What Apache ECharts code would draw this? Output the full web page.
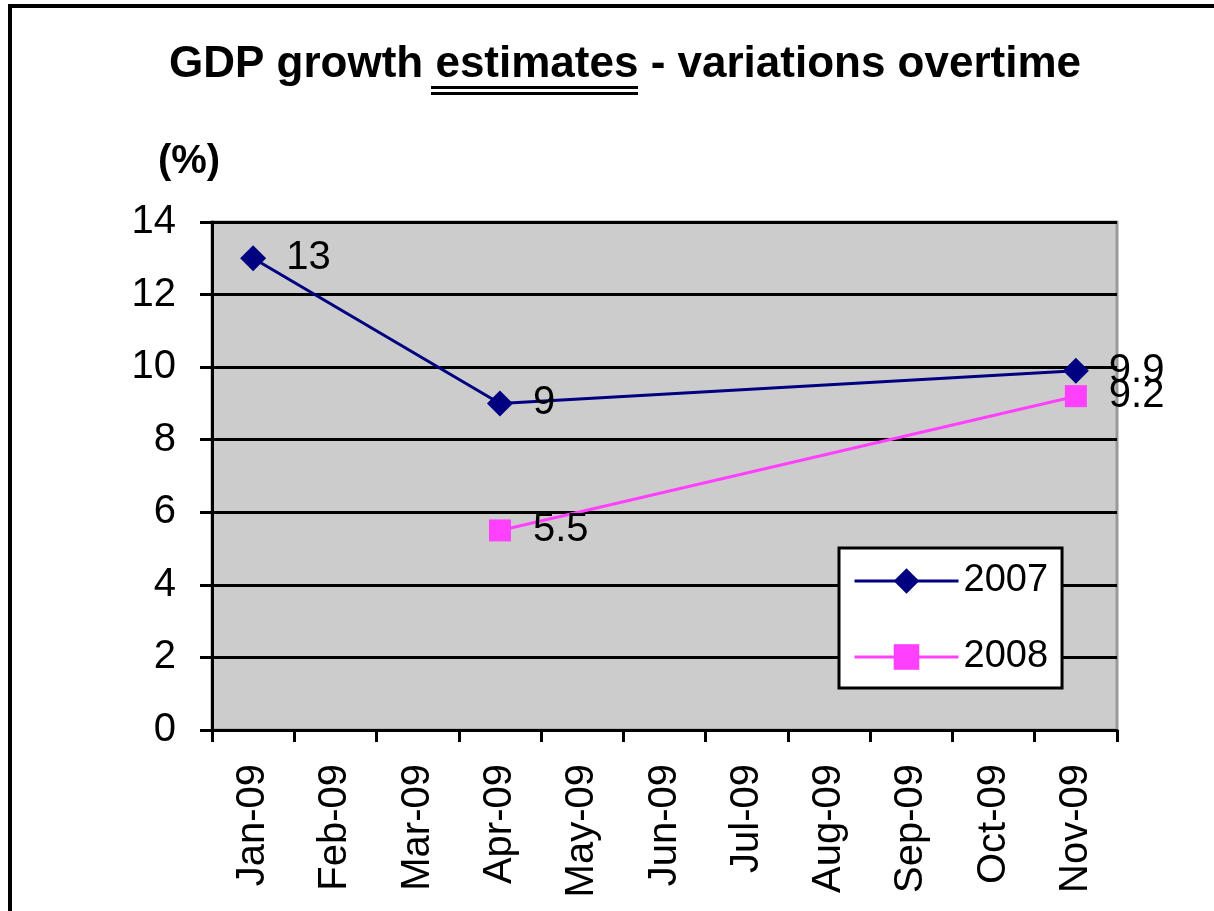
<!DOCTYPE html>
<html>
<head>
<meta charset="utf-8">
<title>GDP growth estimates</title>
<script src="https://cdn.jsdelivr.net/npm/echarts@6/dist/echarts.min.js"></script>
<style>
  html, body { margin: 0; padding: 0; background: #fff; }
  #main { width: 1214px; height: 911px; }
  /* outer frame of the original chart, only top and left are visible */
  .frame {
    position: absolute; left: 8px; top: 4px; width: 1300px; height: 1000px;
    border-top: 4px solid #000; border-left: 4px solid #000; pointer-events: none;
  }
</style>
</head>
<body>
<div id="main"></div>
<div class="frame"></div>
<script>
// 月份
const months = ['Jan-09', 'Feb-09', 'Mar-09', 'Apr-09', 'May-09', 'Jun-09',
  'Jul-09', 'Aug-09', 'Sep-09', 'Oct-09', 'Nov-09']
// 2007 / 2008 估计值（没有数据的月份用 null）
const est2007 = [13, null, null, 9, null, null, null, null, null, null, 9.9]
const est2008 = [null, null, null, 5.5, null, null, null, null, null, null, 9.2]
const seriesNames = ['2007', '2008']
const yTicks = { min: 0, max: 14, interval: 2 }

const font = "'Liberation Sans', Arial, sans-serif"
const chart = echarts.init(document.getElementById('main'))

chart.setOption({
  animation: false,
  title: {
    text: 'GDP growth {u|estimates} - variations overtime',
    left: 164,
    top: 38,
    textStyle: {
      fontFamily: font, fontWeight: 'bold', fontSize: 44, color: '#000',
      rich: { u: { fontFamily: font, fontWeight: 'bold', fontSize: 44, color: '#000' } }
    }
  },
  // 双下划线
  graphic: [
    { type: 'rect', shape: { x: 431, y: 86, width: 207, height: 3 }, style: { fill: '#000' } },
    { type: 'rect', shape: { x: 431, y: 92, width: 207, height: 3 }, style: { fill: '#000' } }
  ],
  legend: {
    orient: 'vertical',
    left: 839,
    top: 548,
    padding: [14, 14, 12, 14],
    backgroundColor: '#fff',
    borderColor: '#000',
    borderWidth: 3,
    borderRadius: 0,
    itemWidth: 104,
    itemHeight: 32,
    itemGap: 38,
    lineStyle: { width: 3 },
    textStyle: { fontFamily: font, fontSize: 38, color: '#000' },
    data: seriesNames
  },
  grid: {
    show: true,
    left: 212,
    right: 97,
    top: 222,
    bottom: 181,
    backgroundColor: '#cccccc',
    borderColor: '#999',
    borderWidth: 3
  },
  xAxis: {
    type: 'category',
    data: months,
    boundaryGap: true,
    axisLine: { lineStyle: { color: '#000', width: 3 } },
    axisTick: { show: true, interval: 0, length: 12, lineStyle: { color: '#000', width: 3 } },
    axisLabel: { interval: 0, rotate: 90, margin: 34, fontFamily: font, fontSize: 40, color: '#000' },
    splitLine: { show: false }
  },
  yAxis: {
    type: 'value',
    min: yTicks.min,
    max: yTicks.max,
    interval: yTicks.interval,
    name: '(%)',
    nameLocation: 'end',
    nameGap: 40,
    nameTextStyle: { fontFamily: font, fontWeight: 'bold', fontSize: 40, color: '#000', padding: [0, 46, 0, 0] },
    axisLine: { show: true, lineStyle: { color: '#000', width: 3 } },
    axisTick: { show: true, length: 12, lineStyle: { color: '#000', width: 3 } },
    axisLabel: { margin: 36, fontFamily: font, fontSize: 40, color: '#000' },
    splitLine: { show: true, lineStyle: { color: '#000', width: 3 } }
  },
  series: [
    {
      name: seriesNames[0],
      type: 'line',
      data: est2007,
      connectNulls: true,
      symbol: 'diamond',
      symbolSize: 26,
      color: '#000080',
      lineStyle: { width: 3, color: '#000080' },
      itemStyle: { color: '#000080' },
      label: { show: true, position: 'right', distance: 20, fontFamily: font, fontSize: 40, color: '#000' }
    },
    {
      name: seriesNames[1],
      type: 'line',
      data: est2008,
      connectNulls: true,
      symbol: 'rect',
      symbolSize: 22,
      color: '#ff40ff',
      lineStyle: { width: 3, color: '#ff40ff' },
      itemStyle: { color: '#ff40ff' },
      label: { show: true, position: 'right', distance: 22, fontFamily: font, fontSize: 40, color: '#000' }
    }
  ]
})
</script>
</body>
</html>
